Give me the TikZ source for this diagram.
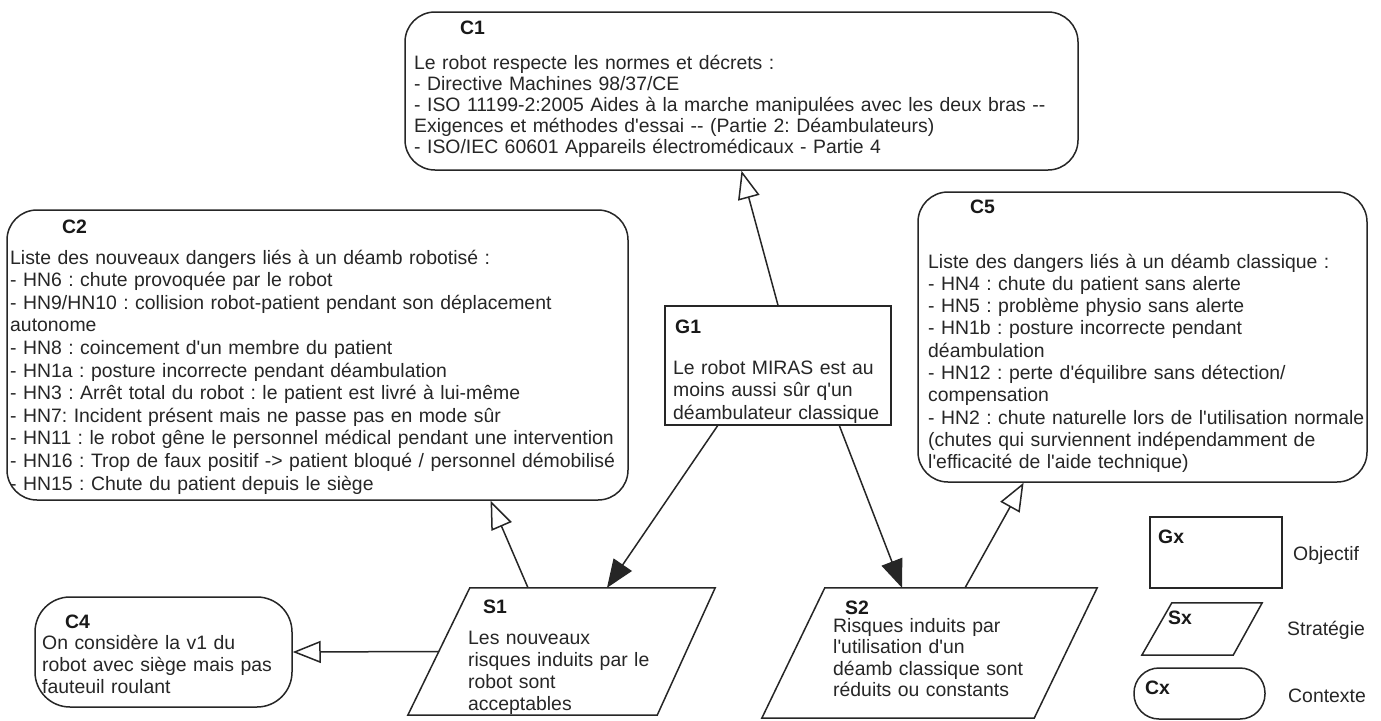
\documentclass[tikz,border=0pt]{standalone}
\usepackage{fontspec}
\setmainfont{Liberation Sans}[Ligatures=TeXOff]
\frenchspacing
\usetikzlibrary{arrows.meta,calc}
\tikzset{
  cbox/.style={draw=black!85, line width=1.5pt, rounded corners=30pt, inner sep=0pt},
  gbox/.style={draw=black!85, line width=1.5pt, inner sep=0pt},
  hidden/.style={draw=none, inner sep=0pt},
  para/.style={draw=black!85, line width=1.5pt, line join=miter},
  tagtxt/.style={anchor=base west, inner sep=0pt, font=\bfseries\fontsize{19.4}{22.5}\selectfont, text=black!90},
  body/.style={anchor=base west, inner sep=0pt, align=left, text width=700pt, font=\fontsize{19.4}{22.5}\selectfont, text=black!85},
  bodyc/.style={body, font=\fontsize{19.4}{21}\selectfont},
  plain/.style={anchor=base west, inner sep=0pt, font=\fontsize{19.4}{22.5}\selectfont, text=black!85},
  link/.style={draw=black!85, line width=1.5pt},
  tipfill/.style={link, -{Triangle[length=28pt,width=22pt]}},
  tipopen/.style={link, -{Triangle[length=28pt,width=22pt,fill=white]}},
}
\begin{document}
\begin{tikzpicture}[x=1pt,y=-1pt]
\useasboundingbox[fill=white] (0,0) rectangle (1381,720);

% ---- boxes ----
\node[cbox, minimum width=673pt, minimum height=158pt] (C1) at (741.5,91) {};
\node[cbox, minimum width=621pt, minimum height=290pt] (C2) at (317.5,355) {};
\node[cbox, minimum width=449pt, minimum height=290pt] (C5) at (1142.5,337) {};
\node[gbox, minimum width=226pt, minimum height=119pt] (G1) at (778,365.5) {};
\node[cbox, rounded corners=35pt, minimum width=257pt, minimum height=110pt] (C4) at (163.5,652) {};

% strategy parallelograms (hidden frame + outline)
\node[hidden, minimum width=307pt, minimum height=127pt] (S1) at (561.5,651.5) {};
\draw[para] ($(S1.north west)+(62,0)$) -- (S1.north east) -- ($(S1.south east)-(58,0)$) -- (S1.south west) -- cycle;
\node[hidden, minimum width=335pt, minimum height=130pt] (S2) at (929.5,653) {};
\draw[para] ($(S2.north west)+(63,0)$) -- (S2.north east) -- ($(S2.south east)-(63,0)$) -- (S2.south west) -- cycle;

% legend
\node[gbox, minimum width=132pt, minimum height=71pt] (Gx) at (1216,552.5) {};
\node[hidden, minimum width=120pt, minimum height=52pt] (Sx) at (1202,629) {};
\draw[para] ($(Sx.north west)+(30,0)$) -- (Sx.north east) -- ($(Sx.south east)-(29,0)$) -- (Sx.south west) -- cycle;
\node[cbox, rounded corners=25pt, minimum width=131pt, minimum height=51pt] (Cx) at (1199.5,693.5) {};

% ---- connectors ----
\draw[tipopen] (G1.north) -- (C1.south);
\draw[tipopen] ($(S1.north west)!0.391!(S1.north east)$) -- ($(C2.south west)!0.778!(C2.south east)$);
\draw[tipfill] ($(G1.south west)!0.2345!(G1.south east)$) -- ($(S1.north west)!0.648!(S1.north east)$);
\draw[tipfill] ($(G1.south west)!0.77!(G1.south east)$) -- ($(S2.north west)!0.418!(S2.north east)$);
\draw[tipopen] ($(S2.north west)!0.606!(S2.north east)$) -- ($(C5.south west)!0.236!(C5.south east)$);
\draw[tipopen] ($(S1.west)+(31,0)$) -- (C4.east);

% ---- texts ----
\node[tagtxt] (tC1) at (460,34) {C1};
\node[bodyc] (xC1) at (414,69) {Le robot respecte les normes et décrets :\\
- Directive Machines 98/37/CE\\
- ISO 11199-2:2005 Aides à la marche manipulées avec les deux bras -{}-\\
Exigences et méthodes d'essai -{}- (Partie 2: Déambulateurs)\\
- ISO/IEC 60601 Appareils électromédicaux - Partie 4};

\node[tagtxt] (tC2) at (62,233) {C2};
\node[body, font=\fontsize{19.4}{22.6}\selectfont] (xC2) at (10,264) {Liste des nouveaux dangers liés à un déamb robotisé :\\
- HN6 : chute provoquée par le robot\\
- HN9/HN10 : collision robot-patient pendant son déplacement\\
autonome\\
- HN8 : coincement d'un membre du patient\\
- HN1a : posture incorrecte pendant déambulation\\
- HN3 : Arrêt total du robot : le patient est livré à lui-même\\
- HN7: Incident présent mais ne passe pas en mode sûr\\
- HN11 : le robot gêne le personnel médical pendant une intervention\\
- HN16 : Trop de faux positif -> patient bloqué / personnel démobilisé\\
- HN15 : Chute du patient depuis le siège};

\node[tagtxt] (tG1) at (675,333) {G1};
\node[body] (xG1) at (673,374) {Le robot MIRAS est au\\
moins aussi sûr q'un\\
déambulateur classique};

\node[tagtxt] (tC5) at (970,213) {C5};
\node[body, font=\fontsize{19.4}{22.3}\selectfont] (xC5) at (928,268) {Liste des dangers liés à un déamb classique :\\
- HN4 : chute du patient sans alerte\\
- HN5 : problème physio sans alerte\\
- HN1b : posture incorrecte pendant\\
déambulation\\
- HN12 : perte d'équilibre sans détection/\\
compensation\\
- HN2 : chute naturelle lors de l'utilisation normale\\
(chutes qui surviennent indépendamment de\\
l'efficacité de l'aide technique)};

\node[tagtxt] (tS1) at (483,613) {S1};
\node[body, font=\fontsize{19.4}{22.3}\selectfont] (xS1) at (468,644) {Les nouveaux\\
risques induits par le\\
robot sont\\
acceptables};

\node[tagtxt] (tS2) at (845,614) {S2};
\node[body, font=\fontsize{19.4}{21.5}\selectfont] (xS2) at (833,632) {Risques induits par\\
l'utilisation d'un\\
déamb classique sont\\
réduits ou constants};

\node[tagtxt] (tC4) at (65,628) {C4};
\node[body, font=\fontsize{19.4}{22}\selectfont] (xC4) at (42,649) {On considère la v1 du\\
robot avec siège mais pas\\
fauteuil roulant};

\node[tagtxt] (tGx) at (1158,543) {Gx};
\node[tagtxt] (tSx) at (1168,624) {Sx};
\node[tagtxt] (tCx) at (1145,694) {Cx};
\node[plain] (lGx) at (1293,560) {Objectif};
\node[plain] (lSx) at (1287,635) {Stratégie};
\node[plain] (lCx) at (1288,702) {Contexte};
\end{tikzpicture}
\end{document}
